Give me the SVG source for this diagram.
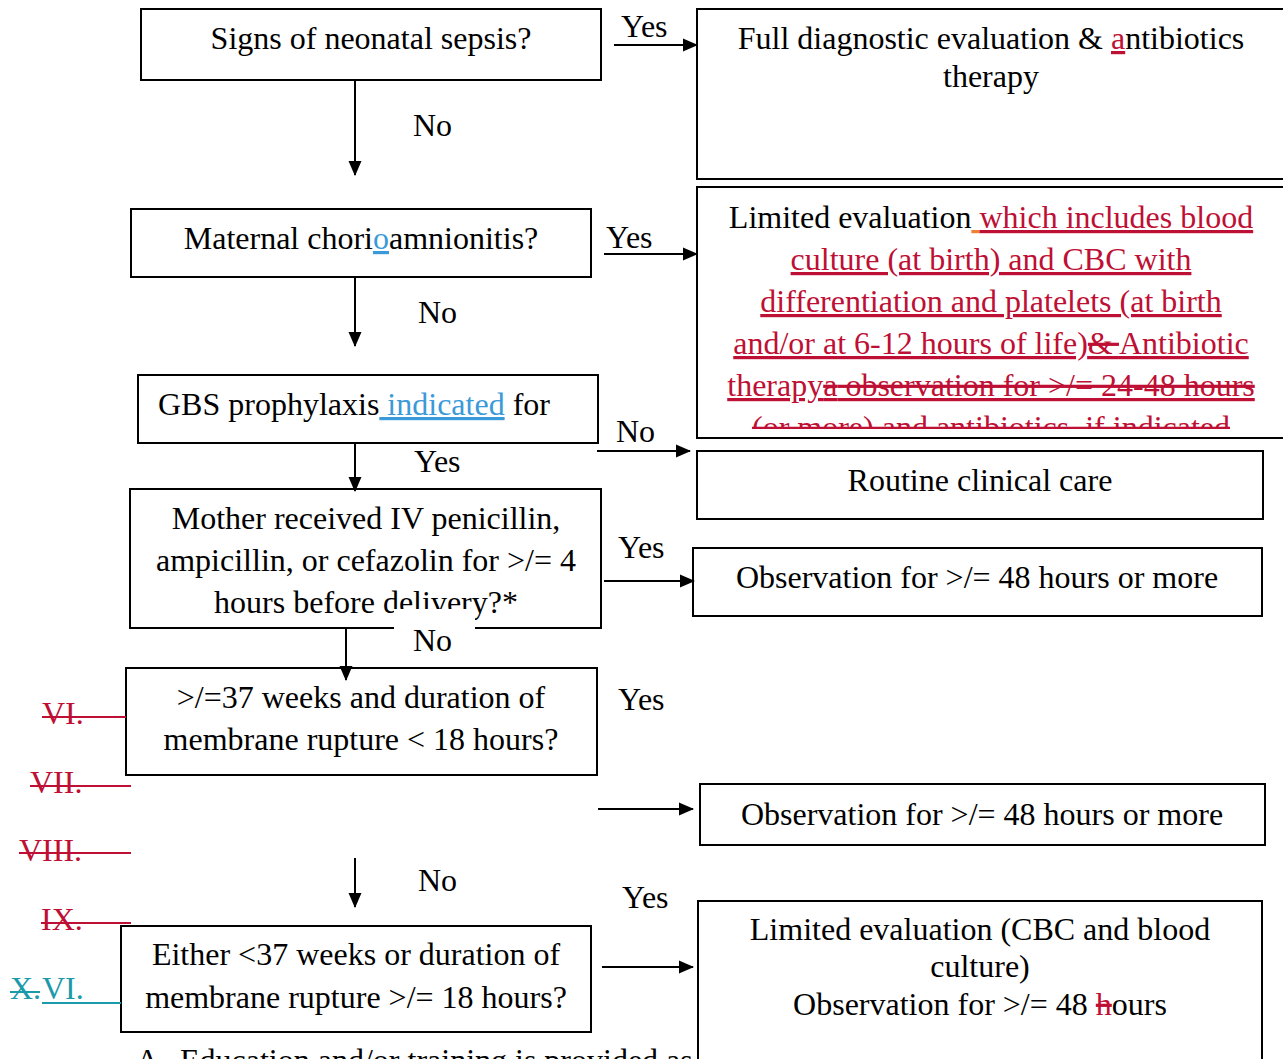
<svg xmlns="http://www.w3.org/2000/svg" width="1283" height="1059" viewBox="0 0 1283 1059">
<style>
text{font-family:"Liberation Serif","Times New Roman",serif;font-size:32px;fill:#000}
.c{text-anchor:middle}
.box{fill:#fff;stroke:#000;stroke-width:2}
.ln{stroke:#000;stroke-width:2;fill:none}
.red{fill:#BE0F34}
.blue{fill:#3A9AD9}
.teal{fill:#1B9AAA}
.org{fill:#F07F2F}
.u{text-decoration:underline}
.s{text-decoration:line-through}
</style>
<defs>
<marker id="ah" markerWidth="15" markerHeight="14" refX="14" refY="7" orient="auto" markerUnits="userSpaceOnUse">
<path d="M0,0.5 L15,7 L0,13.5 Z" fill="#000"/>
</marker>
<clipPath id="clipLim"><rect x="697" y="187" width="600" height="242"/></clipPath>
<clipPath id="clipBottom"><rect x="0" y="1036" width="697" height="23"/></clipPath>
</defs>
<rect width="1283" height="1059" fill="#fff"/>

<g id="node-sepsis">
<rect class="box" x="141" y="9" width="460" height="71"/>
<text class="c" x="371" y="49">Signs of neonatal sepsis?</text>
</g>

<g id="node-full-eval">
<rect class="box" x="697" y="9" width="620" height="170"/>
<text class="c" x="991" y="49">Full diagnostic evaluation &amp; <tspan class="red u">a</tspan>ntibiotics</text>
<text class="c" x="991" y="87">therapy</text>
</g>

<g id="node-chorio">
<rect class="box" x="131" y="209" width="460" height="68"/>
<text class="c" x="361" y="249">Maternal chori<tspan class="blue u">o</tspan>amnionitis?</text>
</g>

<g id="node-limited-eval">
<rect class="box" x="697" y="187" width="620" height="251"/>
<g clip-path="url(#clipLim)">
<text class="c" x="991" y="228">Limited evaluation<tspan class="org u"> </tspan><tspan class="red u">which includes blood</tspan></text>
<text class="c red u" x="991" y="270">culture (at birth) and CBC with</text>
<text class="c red u" x="991" y="312">differentiation and platelets (at birth</text>
<text class="c" x="991" y="354"><tspan class="red u">and/or at 6-12 hours of life)</tspan><tspan class="org u"><tspan class="red s">&amp; </tspan></tspan><tspan class="red u">Antibiotic</tspan></text>
<text class="c" x="991" y="396"><tspan class="red u">therapy</tspan><tspan class="org u"><tspan class="red s">a</tspan></tspan><tspan class="blue u"><tspan class="red s"> observation for &gt;/= 24-48 hours</tspan></tspan></text>
<text class="c red s" x="991" y="438">(or more) and antibiotics, if indicated</text>
</g>
</g>

<g id="node-gbs">
<rect class="box" x="138" y="375" width="460" height="68"/>
<text x="158" y="415">GBS prophylaxis<tspan class="blue u"> indicated</tspan> for</text>
</g>

<g id="node-routine">
<rect class="box" x="697" y="451" width="566" height="68"/>
<text class="c" x="980" y="491">Routine clinical care</text>
</g>

<g id="node-mother">
<rect class="box" x="130" y="489" width="471" height="139"/>
<text class="c" x="366" y="529">Mother received IV penicillin,</text>
<text class="c" x="366" y="571">ampicillin, or cefazolin for &gt;/= 4</text>
<text class="c" x="366" y="613">hours before delivery?*</text>
<rect x="394" y="609" width="81" height="58" fill="#fff"/>
<text x="413" y="651">No</text>
</g>

<g id="node-obs1">
<rect class="box" x="693" y="548" width="569" height="68"/>
<text class="c" x="977" y="588">Observation for &gt;/= 48 hours or more</text>
</g>

<g id="node-37weeks">
<rect class="box" x="126" y="668" width="471" height="107"/>
<text class="c" x="361" y="708">&gt;/=37 weeks and duration of</text>
<text class="c" x="361" y="750">membrane rupture &lt; 18 hours?</text>
</g>

<g id="node-obs2">
<rect class="box" x="700" y="784" width="565" height="61"/>
<text class="c" x="982" y="825">Observation for &gt;/= 48 hours or more</text>
</g>

<g id="node-either">
<rect class="box" x="121" y="926" width="470" height="106"/>
<text class="c" x="356" y="965">Either &lt;37 weeks or duration of</text>
<text class="c" x="356" y="1008">membrane rupture &gt;/= 18 hours?</text>
</g>

<g id="node-limited-eval-2">
<rect class="box" x="698" y="901" width="564" height="200"/>
<text class="c" x="980" y="940">Limited evaluation (CBC and blood</text>
<text class="c" x="980" y="977">culture)</text>
<text class="c" x="980" y="1015">Observation for &gt;/= 48 <tspan class="red s">h</tspan>ours</text>
</g>

<g id="connectors">
<line class="ln" x1="614" y1="45" x2="697" y2="45" marker-end="url(#ah)"/>
<line class="ln" x1="355" y1="80" x2="355" y2="175" marker-end="url(#ah)"/>
<line class="ln" x1="604" y1="254" x2="697" y2="254" marker-end="url(#ah)"/>
<line class="ln" x1="355" y1="277" x2="355" y2="346" marker-end="url(#ah)"/>
<line class="ln" x1="597" y1="451" x2="690" y2="451" marker-end="url(#ah)"/>
<line class="ln" x1="355" y1="443" x2="355" y2="491" marker-end="url(#ah)"/>
<line class="ln" x1="604" y1="581" x2="694" y2="581" marker-end="url(#ah)"/>
<line class="ln" x1="346" y1="629" x2="346" y2="680" marker-end="url(#ah)"/>
<line class="ln" x1="598" y1="809" x2="693" y2="809" marker-end="url(#ah)"/>
<line class="ln" x1="355" y1="858" x2="355" y2="907" marker-end="url(#ah)"/>
<line class="ln" x1="602" y1="967" x2="693" y2="967" marker-end="url(#ah)"/>
<text x="621" y="37">Yes</text>
<text x="413" y="136">No</text>
<text x="606" y="248">Yes</text>
<text x="418" y="323">No</text>
<text x="616" y="442">No</text>
<text x="414" y="472">Yes</text>
<text x="618" y="558">Yes</text>
<text x="618" y="710">Yes</text>
<text x="418" y="891">No</text>
<text x="622" y="908">Yes</text>
</g>

<g id="margin-numerals">
<text class="red" x="42" y="724">VI.</text>
<line x1="42" y1="717" x2="126" y2="717" stroke="#BE0F34" stroke-width="2"/>
<text class="red" x="30" y="793">VII.</text>
<line x1="30" y1="786" x2="131" y2="786" stroke="#BE0F34" stroke-width="2"/>
<text class="red" x="19" y="861">VIII.</text>
<line x1="19" y1="853" x2="131" y2="853" stroke="#BE0F34" stroke-width="2"/>
<text class="red" x="41" y="930">IX.</text>
<line x1="41" y1="923" x2="131" y2="923" stroke="#BE0F34" stroke-width="2"/>
<text class="teal" x="10" y="999">X.</text>
<line x1="10" y1="992" x2="40" y2="992" stroke="#1B9AAA" stroke-width="2"/>
<text class="teal" x="42" y="999">VI.</text>
<line x1="42" y1="1003" x2="121" y2="1003" stroke="#1B9AAA" stroke-width="2"/>
</g>

<g id="bottom-text" clip-path="url(#clipBottom)">
<text x="136" y="1071">A.</text>
<text x="180" y="1071">Education and/or training is provided as</text>
</g>
</svg>
